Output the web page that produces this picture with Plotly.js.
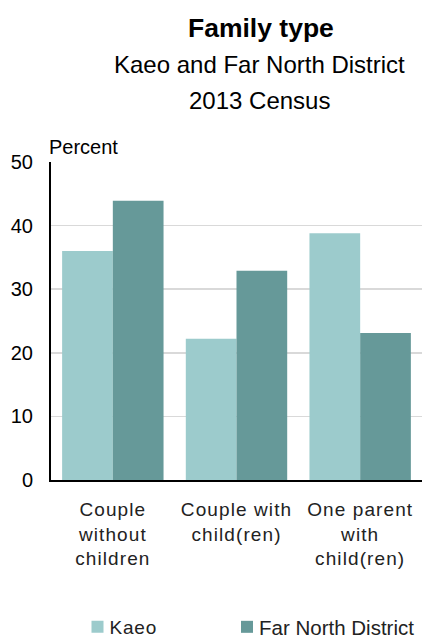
<!DOCTYPE html>
<html>
<head>
<meta charset="utf-8">
<script src="https://cdn.plot.ly/plotly-3.0.1.min.js"></script>
<style>html,body{margin:0;padding:0;background:#fff;}#chart{width:422px;height:638px;}#chart .xtick text{letter-spacing:1.1px;}#chart .legendtext{letter-spacing:0.8px;}#chart .legendsymbols{transform:translate(8px,0);}</style>
</head>
<body>
<div id="chart"></div>
<script>
const categories = ["Couple<br>without<br>children", "Couple with<br>child(ren)", "One parent<br>with<br>child(ren)"];
const kaeoValues = [36.0, 22.2, 38.8];
const farNorthValues = [43.9, 32.9, 23.1];
const seriesNames = ["Kaeo", "Far North District"];
const yTicks = [0, 10, 20, 30, 40, 50];

const font = "Arial, 'Liberation Sans', sans-serif";
const plotLeft = 51, plotRight = 422, plotTop = 162, plotBottom = 480;
const py = (pix) => (plotBottom - pix) / (plotBottom - plotTop);
const px = (pix) => (pix - plotLeft) / (plotRight - plotLeft);
const data = [
  {type: "bar", name: seriesNames[0], x: categories, y: kaeoValues, marker: {color: "#9ccbcc"}, hoverinfo: "y", legend: "legend"},
  {type: "bar", name: seriesNames[1], x: categories, y: farNorthValues, marker: {color: "#669999"}, hoverinfo: "y", legend: "legend2"}
];
const legendCommon = {orientation: "h", xanchor: "left", y: py(627), yanchor: "middle", itemwidth: 30, bgcolor: "rgba(0,0,0,0)"};
const layout = {
  width: 422, height: 638,
  margin: {l: plotLeft, r: 422 - plotRight, t: plotTop, b: 638 - plotBottom, autoexpand: false},
  paper_bgcolor: "#fff", plot_bgcolor: "#fff",
  font: {family: font, color: "#000"},
  barmode: "group", bargap: 0.18, bargroupgap: 0,
  showlegend: true,
  legend: Object.assign({}, legendCommon, {x: px(69.5), font: {size: 19, color: "#222"}}),
  legend2: Object.assign({}, legendCommon, {x: px(219), font: {size: 20.5, color: "#222"}}),
  xaxis: {showline: true, linecolor: "#000", linewidth: 2, ticks: "", ticklabelstandoff: 11, tickfont: {size: 19, color: "#222"}, fixedrange: true},
  yaxis: {range: [0, 50], tickvals: yTicks, showline: true, linecolor: "#000", linewidth: 2, gridcolor: "#d9d9d9", gridwidth: 1.5, zeroline: false, ticks: "", ticklabelstandoff: 12, tickfont: {size: 20, color: "#000"}, fixedrange: true},
  annotations: [
    {text: "<b>Family type</b>", xref: "paper", yref: "paper", x: 0.566, y: py(28), yanchor: "middle", xanchor: "center", showarrow: false, font: {size: 26.5}},
    {text: "Kaeo and Far North District", xref: "paper", yref: "paper", x: 0.562, y: py(65), yanchor: "middle", xanchor: "center", showarrow: false, font: {size: 24}},
    {text: "2013 Census", xref: "paper", yref: "paper", x: 0.562, y: py(100), yanchor: "middle", xanchor: "center", showarrow: false, font: {size: 24}},
    {text: "Percent", xref: "paper", yref: "paper", x: -0.012, y: py(147), xanchor: "left", yanchor: "middle", showarrow: false, font: {size: 20, color: "#000"}}
  ]
};
Plotly.newPlot("chart", data, layout, {displayModeBar: false, staticPlot: true});
</script>
</body>
</html>
